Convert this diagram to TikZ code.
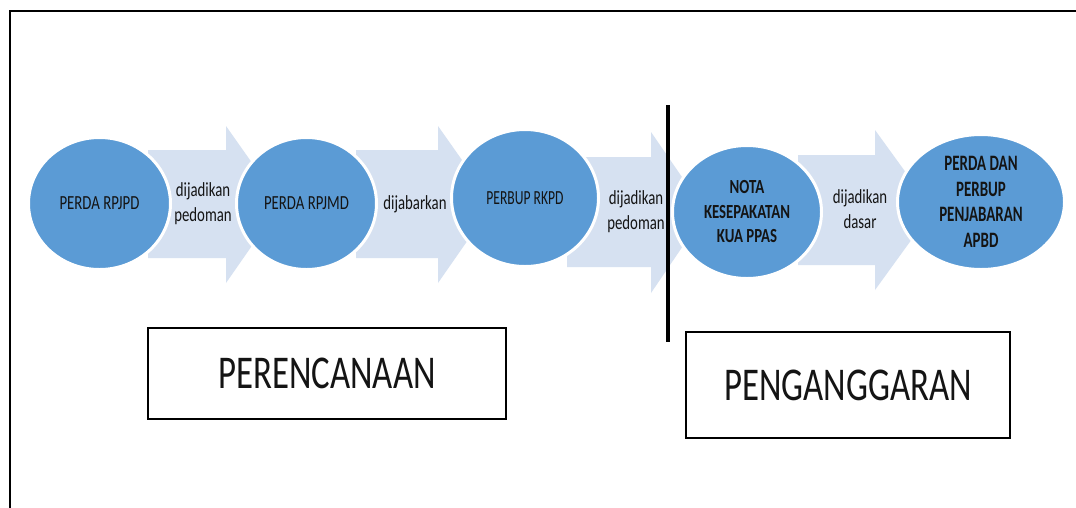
\documentclass[tikz,border=0pt]{standalone}
\usepackage{fontspec}
\setmainfont{Carlito}[FakeStretch=0.74]
\newfontfamily\narrowfont{Carlito}[FakeStretch=0.68]
\usetikzlibrary{shapes.geometric}
\definecolor{ellblue}{RGB}{91,155,213}
\definecolor{arrblue}{RGB}{214,225,241}
\definecolor{txt}{RGB}{20,20,20}
\begin{document}
\begin{tikzpicture}[x=1pt,y=-1pt,
  ell/.style={ellipse,fill=ellblue,draw=white,line width=3pt,inner sep=0pt,
    font=\fontsize{20}{25}\selectfont,text=txt,align=center},
  lbl/.style={font=\fontsize{20}{25}\selectfont,text=txt,align=center,inner sep=0pt},
  arr/.style={fill=arrblue,draw=none},
  bigbox/.style={draw=black,line width=2.5pt,fill=white,inner sep=0pt,
    font=\fontsize{47}{56}\selectfont,text=txt}]
\useasboundingbox (0,0) rectangle (1076,507);
\clip (0,0) rectangle (1076,507);
\fill[white] (0,0) rectangle (1076,507);
% outer frame
\draw[line width=2pt] (1090,11) -- (10,11) -- (10,520);
% block arrows
\path[arr] (148,150) -- (226,150) -- (226,126) -- (281,204) -- (226,283) -- (226,258) -- (148,258) -- cycle;
\path[arr] (356,150) -- (438,150) -- (438,126) -- (493,204) -- (438,283) -- (438,258) -- (356,258) -- cycle;
\path[arr] (567,157) -- (651,157) -- (651,132) -- (706,212) -- (651,293) -- (651,267) -- (567,267) -- cycle;
\path[arr] (798,155) -- (875,155) -- (875,130) -- (933,210) -- (875,290) -- (875,265) -- (798,265) -- cycle;
% separator line
\coordinate (sepT) at (668,105);
\coordinate (sepB) at (668,342);
\draw[line width=3.5pt] (sepT) -- (sepB);
% ellipses
\node[ell,minimum width=142pt,minimum height=132pt] (e1) at (99.5,203.5) {PERDA RPJPD};
\node[ell,minimum width=140pt,minimum height=132pt] (e2) at (306.5,203.5) {PERDA RPJMD};
\node[ell,minimum width=147pt,minimum height=137pt,font=\narrowfont\fontsize{20}{25}\selectfont] (e3) at (525,198) {PERBUP RKPD};
\node[ell,minimum width=149pt,minimum height=133pt,font=\fontsize{20}{24.5}\selectfont\bfseries] (e4) at (747,212) {NOTA\\KESEPAKATAN\\KUA PPAS};
\node[ell,minimum width=167pt,minimum height=135pt,font=\narrowfont\fontsize{22}{25.5}\selectfont\bfseries] (e5) at (981,202) {PERDA DAN\\PERBUP\\PENJABARAN\\APBD};
% arrow labels
\node[lbl] (l1) at (203,204) {dijadikan\\pedoman};
\node[lbl] (l2) at (415,204) {dijabarkan};
\node[lbl] (l3) at (636,212) {dijadikan\\pedoman};
\node[lbl] (l4) at (860,209) {dijadikan\\dasar};
% phase boxes
\node[bigbox,minimum width=358pt,minimum height=91pt] (b1) at (327,373.5) {PERENCANAAN};
\node[bigbox,minimum width=324pt,minimum height=106pt] (b2) at (848,385) {PENGANGGARAN};
\end{tikzpicture}
\end{document}
